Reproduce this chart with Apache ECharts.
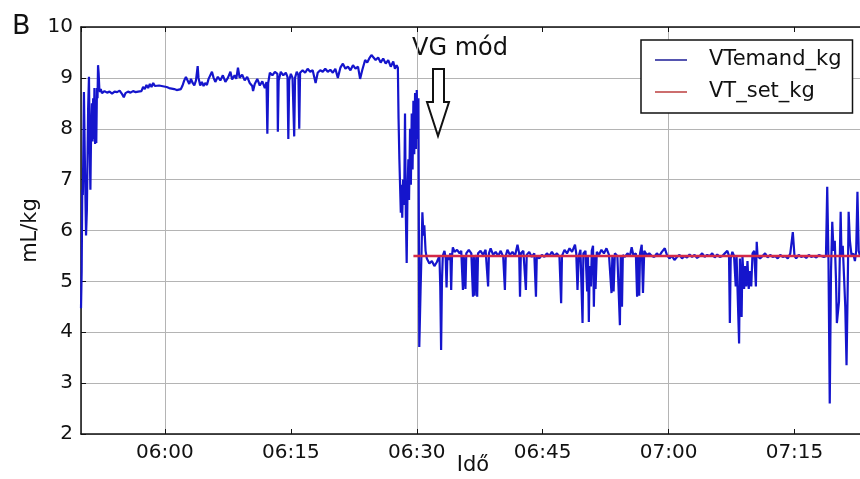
<!DOCTYPE html>
<html lang="hu" style="height: 100%">
<head>
  <meta charset="utf-8">
</head>
<body style="height: 100%; margin: 0">
  <div id="container" style="width: 860px; height: 479px"></div>

  <script type="text/javascript" src="https://cdn.jsdelivr.net/npm/echarts@6/dist/echarts.min.js"></script>
  <script type="text/javascript">
// time is given as minutes after 05:50
var startClock = [5, 50];
var endMinute = 93.4;

// VTemand_kg : [minute, mL/kg]
var vtDemandKg = [
  [0.00,4.47],[0.08,5.2],[0.15,6.8],[0.22,6.7],[0.35,8.72],[0.45,7.5],[0.6,5.9],[0.7,6.4],[0.85,8.4],[0.95,9.02],
  [1.05,7.5],[1.12,6.8],[1.2,7.9],[1.3,8.5],[1.38,7.75],[1.45,8.6],[1.52,7.8],[1.6,8.8],[1.68,7.7],[1.75,8.5],
  [1.82,7.72],[1.9,8.8],[1.97,8.6],[2.03,9.25],[2.1,9.1],[2.18,8.8],[2.27,8.72],[2.35,8.78],
  [2.5,8.7],[2.8,8.74],[3.1,8.71],[3.4,8.73],[3.7,8.69],[4.0,8.73],[4.3,8.72],[4.6,8.75],[4.9,8.68],[5.1,8.62],
  [5.3,8.7],[5.6,8.73],[5.9,8.71],[6.2,8.74],[6.5,8.72],[6.8,8.73],[7.0,8.71],[7.2,8.74],[7.4,8.82],[7.6,8.78],
  [7.8,8.86],[8.0,8.8],[8.2,8.88],[8.4,8.82],[8.6,8.9],[8.8,8.84],[9.0,8.87],[9.3,8.85],
  [9.6,8.84],[9.9,8.83],[10.2,8.82],[10.5,8.8],[10.8,8.79],[11.1,8.78],[11.4,8.76],[11.6,8.74],[11.9,8.78],
  [12.1,8.85],[12.3,8.95],[12.5,9.02],[12.7,8.95],[12.9,8.88],[13.1,8.98],[13.3,8.9],[13.5,8.85],[13.7,8.95],
  [13.9,9.23],[14.0,9.0],[14.2,8.85],[14.4,8.92],[14.6,8.84],[14.8,8.9],[15.0,8.86],[15.2,8.98],
  [15.4,9.0],[15.6,9.12],[15.8,9.0],[16.0,8.92],[16.3,9.02],[16.6,8.95],[16.9,9.05],[17.2,8.92],[17.5,9.0],
  [17.8,9.12],[18.0,8.97],[18.3,9.05],[18.5,8.98],[18.7,9.2],[18.9,9.0],[19.2,9.06],[19.5,8.95],[19.8,9.02],
  [20.1,8.9],[20.4,8.84],[20.5,8.74],[20.7,8.88],[21.0,8.98],[21.3,8.85],[21.6,8.93],[21.9,8.8],[22.1,8.92],
  [22.2,7.9],[22.3,8.9],[22.5,9.1],[22.8,9.05],[23.1,9.12],[23.4,9.08],[23.45,7.94],[23.55,8.95],[23.8,9.12],
  [24.1,9.05],[24.4,9.1],[24.6,9.02],[24.7,7.8],[24.8,8.95],[25.0,9.08],[25.2,9.0],[25.4,7.85],[25.5,9.0],
  [25.7,9.12],[25.9,9.05],[26.0,8.0],[26.1,9.1],[26.4,9.15],[26.7,9.1],[27.0,9.18],[27.3,9.12],[27.6,9.15],
  [27.95,8.9],[28.2,9.1],[28.5,9.15],[28.8,9.12],[29.1,9.18],[29.4,9.12],[29.7,9.16],[30.0,9.1],[30.3,9.18],
  [30.6,9.0],[30.9,9.2],[31.2,9.28],[31.5,9.18],[31.8,9.22],[32.1,9.15],[32.4,9.25],[32.7,9.18],[33.0,9.22],
  [33.25,8.98],[33.5,9.15],[33.85,9.35],[34.1,9.3],[34.4,9.4],[34.6,9.45],[34.8,9.42],[35.1,9.35],[35.4,9.4],
  [35.7,9.3],[36.0,9.38],[36.3,9.28],[36.6,9.35],[36.9,9.22],[37.2,9.32],[37.4,9.18],[37.6,9.25],[37.75,9.2],
  [37.83,8.2],[37.93,7.4],[38.01,6.9],[38.1,6.35],[38.2,6.9],[38.27,6.25],[38.37,7.0],[38.5,6.5],[38.6,8.3],
  [38.7,6.3],[38.8,5.36],[38.9,6.8],[39.0,7.4],[39.08,6.6],[39.2,8.0],[39.3,6.9],[39.4,8.3],[39.5,7.2],
  [39.6,8.55],[39.7,7.5],[39.8,8.7],[39.9,7.6],[40.0,8.76],[40.1,7.8],[40.2,8.6],[40.3,3.71],[40.45,4.8],
  [40.57,5.6],[40.67,6.36],[40.8,5.9],[40.9,6.1],[41.05,5.6],
  [41.2,5.45],[41.5,5.35],[41.8,5.4],[42.1,5.3],[42.4,5.38],[42.7,5.5],[42.8,4.9],[42.9,3.65],[43.0,5.0],
  [43.1,5.5],[43.3,5.6],[43.45,5.45],[43.55,4.88],[43.65,5.5],[43.8,5.42],[44.0,5.55],[44.1,4.83],[44.2,5.5],
  [44.3,5.67],[44.5,5.58],[44.8,5.62],[45.1,5.55],[45.3,5.6],[45.5,4.83],[45.6,5.5],[45.8,4.85],[45.9,5.55],
  [46.2,5.62],[46.5,5.55],[46.7,4.7],[46.8,5.5],[46.9,4.72],[47.0,4.7],[47.1,5.52],[47.2,4.7],[47.3,5.55],
  [47.6,5.6],[47.9,5.52],[48.2,5.62],[48.5,4.9],[48.6,5.55],[48.8,5.65],[49.1,5.52],[49.4,5.58],[49.7,5.5],
  [50.0,5.6],[50.3,5.48],[50.5,4.83],[50.6,5.5],[50.8,5.62],[51.1,5.52],[51.4,5.58],[51.7,5.5],[52.0,5.72],
  [52.2,5.55],[52.3,4.7],[52.4,5.55],[52.7,5.6],[53.0,4.83],[53.1,5.52],[53.4,5.58],[53.7,5.48],[54.0,5.55],
  [54.2,4.7],[54.3,5.5],[54.6,5.45],[54.9,5.52],[55.2,5.48],[55.5,5.55],[55.8,5.5],[56.1,5.58],[56.4,5.5],
  [56.7,5.55],[57.0,5.48],[57.2,4.57],[57.3,5.5],[57.6,5.62],[57.9,5.55],[58.2,5.65],[58.5,5.58],[58.85,5.72],
  [59.0,5.55],[59.15,4.83],[59.3,5.5],[59.5,5.62],[59.75,4.18],[59.85,5.55],[60.1,5.6],[60.3,4.8],[60.4,5.5],
  [60.5,4.2],[60.6,5.3],[60.75,4.9],[60.85,5.6],[61.0,5.7],[61.1,4.5],[61.2,5.5],[61.3,4.85],[61.45,5.58],
  [61.7,5.52],[62.0,5.62],[62.3,5.55],[62.6,5.65],[62.9,5.52],[63.2,4.77],[63.3,5.5],[63.45,4.8],[63.6,5.55],
  [63.9,5.5],[64.2,4.14],[64.3,5.5],[64.45,4.5],[64.55,5.52],[64.8,5.48],[65.1,5.55],[65.4,5.5],[65.6,5.67],
  [65.8,5.52],[66.1,5.55],[66.25,4.7],[66.35,5.5],[66.5,4.72],[66.6,5.55],[66.8,5.72],[66.95,4.77],[67.1,5.6],
  [67.4,5.52],[67.7,5.55],[68.0,5.5],[68.3,5.48],[68.6,5.55],[68.9,5.5],[69.2,5.58],[69.55,5.65],[69.8,5.52],
  [70.1,5.45],[70.4,5.5],[70.7,5.42],[71.0,5.48],[71.3,5.52],[71.6,5.45],[71.9,5.5],[72.2,5.47],[72.5,5.53],
  [72.8,5.48],[73.1,5.52],[73.4,5.46],[73.7,5.5],[74.0,5.55],[74.3,5.48],[74.6,5.52],[74.9,5.5],[75.2,5.55],
  [75.5,5.47],[75.8,5.53],[76.1,5.48],[76.4,5.5],[76.7,5.55],[77.0,5.6],[77.2,5.5],[77.3,4.18],[77.4,5.45],
  [77.6,5.58],[77.8,5.5],[78.0,4.9],[78.1,5.5],[78.4,3.78],[78.5,5.45],[78.7,4.3],[78.8,5.5],[79.0,4.85],
  [79.1,5.3],[79.25,4.9],[79.4,5.4],[79.55,4.85],[79.7,5.2],[79.85,4.9],[80.0,5.55],[80.2,5.6],[80.4,4.9],
  [80.5,5.78],[80.6,5.5],[80.9,5.45],[81.2,5.5],[81.5,5.55],[81.8,5.47],[82.1,5.52],[82.4,5.48],[82.7,5.5],
  [83.0,5.45],[83.3,5.52],[83.6,5.48],[83.9,5.5],[84.2,5.45],[84.5,5.55],[84.8,5.97],[85.0,5.5],[85.2,5.45],
  [85.5,5.52],[85.8,5.48],[86.1,5.5],[86.4,5.46],[86.7,5.52],[87.0,5.48],[87.3,5.5],[87.6,5.47],[87.9,5.52],
  [88.2,5.5],[88.5,5.48],[88.75,5.5],[88.9,6.86],[89.05,5.4],[89.2,2.6],[89.35,5.2],[89.5,6.17],[89.65,5.6],
  [89.8,5.8],[89.95,5.0],[90.05,4.18],[90.2,4.2],[90.3,4.6],[90.5,6.37],[90.6,5.5],[90.75,5.7],[90.9,5.1],
  [91.05,4.5],[91.2,3.35],[91.35,5.0],[91.45,6.37],[91.6,5.8],[91.8,5.5],[92.0,5.55],[92.2,5.4],[92.35,5.6],
  [92.5,6.76],[92.65,5.6],[92.8,5.5],[93.4,5.52]
];

// VT_set_kg : [minute, mL/kg]
var vtSetKg = [[39.6, 5.5], [93.4, 5.5]];

var yTicks = { min: 2, max: 10, step: 1 };

    var dom = document.getElementById('container');
    var myChart = echarts.init(dom, null, { renderer: 'canvas' });
    var FONT = 'DejaVu Sans';
    var base = new Date(2024, 0, 1, startClock[0], startClock[1], 0).getTime();
    function ts(m) { return base + Math.round(m * 60000); }
    function pad(n) { return (n < 10 ? '0' : '') + n; }
    function hhmm(v) { var d = new Date(v); return pad(d.getHours()) + ':' + pad(d.getMinutes()); }
    function toSeries(arr) { return arr.map(function (p) { return [ts(p[0]), p[1]]; }); }

    var timeAxisBase = {
      type: 'time',
      gridIndex: 0,
      min: ts(0),
      max: ts(endMinute)
    };

    var option = {
      animation: false,
      backgroundColor: '#fff',
      textStyle: { fontFamily: FONT },
      grid: { left: 81, top: 27, right: -5, bottom: 45, outerBoundsMode: 'none', containLabel: false },
      legend: {
        orient: 'vertical',
        left: 641,
        top: 40,
        padding: [8, 11, 9, 14],
        itemGap: 8,
        itemWidth: 32,
        itemHeight: 1.6,
        icon: 'rect',
        borderColor: '#111',
        borderWidth: 1.5,
        borderRadius: 0,
        backgroundColor: '#fff',
        textStyle: { fontFamily: FONT, fontSize: 21, color: '#111', padding: [0, 0, 0, 17], lineHeight: 24 },
        data: ['VTemand_kg', 'VT_set_kg']
      },
      xAxis: [
        Object.assign({}, timeAxisBase, {
          position: 'bottom',
          minInterval: 16 * 60000,
          maxInterval: 16 * 60000,
          name: 'Idő',
          nameLocation: 'middle',
          nameGap: 21,
          nameMoveOverlap: false,
          nameTextStyle: { fontFamily: FONT, fontSize: 21, color: '#111' },
          axisLine: { lineStyle: { color: '#111', width: 1.5 } },
          axisTick: { inside: true, length: 5, lineStyle: { color: '#111' } },
          axisLabel: {
            formatter: hhmm, fontFamily: FONT, fontSize: 20, color: '#111', margin: 9,
            showMinLabel: false, showMaxLabel: false
          },
          splitLine: { show: false }
        }),
        Object.assign({}, timeAxisBase, {
          position: 'top',
          minInterval: 16 * 60000,
          maxInterval: 16 * 60000,
          axisLine: { lineStyle: { color: '#111', width: 1.5 } },
          axisTick: { inside: true, length: 5, lineStyle: { color: '#111' } },
          axisLabel: { show: false },
          splitLine: { show: false }
        }),
        Object.assign({}, timeAxisBase, {
          position: 'bottom',
          minInterval: 31 * 60000,
          maxInterval: 31 * 60000,
          axisLine: { show: false },
          axisTick: { show: false },
          axisLabel: { show: false },
          splitLine: { show: true, lineStyle: { color: '#b4b4b4', width: 1 } }
        })
      ],
      yAxis: {
        type: 'value',
        min: yTicks.min,
        max: yTicks.max,
        interval: yTicks.step,
        name: 'mL/kg',
        nameLocation: 'middle',
        nameGap: 40,
        nameMoveOverlap: false,
        nameTextStyle: { fontFamily: FONT, fontSize: 21, color: '#111' },
        axisLine: { show: true, lineStyle: { color: '#111', width: 1.5 } },
        axisTick: { show: true, inside: true, length: 5, lineStyle: { color: '#111' } },
        axisLabel: { fontFamily: FONT, fontSize: 20, color: '#111', margin: 8 },
        splitLine: { show: true, lineStyle: { color: '#b4b4b4', width: 1 } }
      },
      series: [
        {
          name: 'VTemand_kg',
          type: 'line',
          xAxisIndex: 0,
          symbol: 'none',
          lineStyle: { color: '#1515cc', width: 2.2 },
          itemStyle: { color: '#2a2a9c' },
          data: toSeries(vtDemandKg),
          z: 2
        },
        {
          name: 'VT_set_kg',
          type: 'line',
          xAxisIndex: 0,
          symbol: 'none',
          lineStyle: { color: '#d42a48', width: 2.5 },
          itemStyle: { color: '#c04a4a' },
          data: toSeries(vtSetKg),
          z: 3
        }
      ],
      graphic: [
        { type: 'text', left: 12, top: 13, style: { text: 'B', fontFamily: FONT, fontSize: 27, fill: '#111' } },
        { type: 'text', left: 412, top: 37, style: { text: 'VG mód', fontFamily: FONT, fontSize: 24, fill: '#111' } },
        {
          type: 'polygon',
          shape: { points: [[433, 69], [444, 69], [444, 102], [449, 102], [438, 136], [427, 102], [433, 102]] },
          style: { fill: '#fff', stroke: '#111', lineWidth: 2 },
          z: 10
        }
      ]
    };

    myChart.setOption(option);
    window.addEventListener('resize', myChart.resize);
  </script>
</body>
</html>
